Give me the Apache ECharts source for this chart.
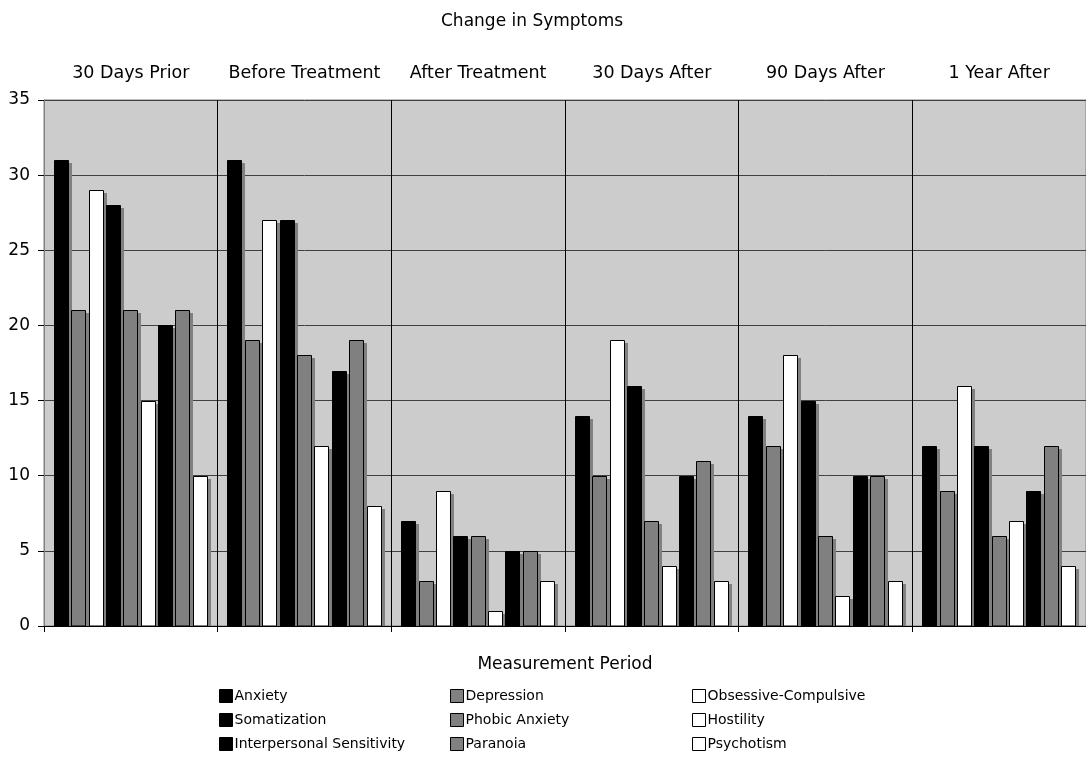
<!DOCTYPE html>
<html><head><meta charset="utf-8">
<script src="https://cdn.jsdelivr.net/npm/echarts@6/dist/echarts.min.js"></script>
<style>html,body{margin:0;padding:0;background:#fff}#c{width:1086px;height:759px}</style>
</head><body><div id="c"></div>
<script>
const categories = ["30 Days Prior","Before Treatment","After Treatment","30 Days After","90 Days After","1 Year After"];
const anxiety = [31,31,7,14,14,12];
const depression = [21,19,3,10,12,9];
const obsessive = [29,27,9,19,18,16];
const somatization = [28,27,6,16,15,12];
const phobic = [21,18,6,7,6,6];
const hostility = [15,12,1,4,2,7];
const interpersonal = [20,17,5,10,10,9];
const paranoia = [21,19,5,11,10,12];
const psychotism = [10,8,3,3,3,4];
const yTicks = [0,5,10,15,20,25,30,35];

const FONT = 'DejaVu Sans';
const BLACK = '#000000', GRAY = '#808080', WHITE = '#ffffff';
const seriesDefs = [
  ['Anxiety', anxiety, BLACK],
  ['Depression', depression, GRAY],
  ['Obsessive-Compulsive', obsessive, WHITE],
  ['Somatization', somatization, BLACK],
  ['Phobic Anxiety', phobic, GRAY],
  ['Hostility', hostility, WHITE],
  ['Interpersonal Sensitivity', interpersonal, BLACK],
  ['Paranoia', paranoia, GRAY],
  ['Psychotism', psychotism, WHITE]
];
const N = seriesDefs.length;
const BAR_W = 15, SHADOW = 3;

function makeRender(si, color) {
  return function (params, api) {
    const ci = api.value(0), v = api.value(1);
    const base = api.coord([ci, 0]);
    const top = api.coord([ci, v]);
    const band = api.size([1, 0])[0];
    const groupW = band * 0.887;
    const step = (groupW - BAR_W) / (N - 1);
    const x0 = Math.round(base[0] - groupW / 2 + si * step);
    const yTop = Math.round(top[1]);
    const yBase = Math.round(base[1]);
    const h = yBase - yTop;
    return {
      type: 'group',
      children: [
        { type: 'rect', shape: { x: x0 + SHADOW, y: yTop + SHADOW, width: BAR_W, height: Math.max(0, h - SHADOW) },
          style: { fill: '#808080' }, silent: true },
        { type: 'rect', shape: { x: x0 + 0.5, y: yTop + 0.5, width: BAR_W - 1, height: Math.max(0, h - 0.5) },
          style: { fill: color, stroke: '#000', lineWidth: 1 }, silent: true }
      ]
    };
  };
}

const series = seriesDefs.map(([name, data, color], si) => ({
  name, type: 'custom', xAxisIndex: 0, yAxisIndex: 0,
  data: data.map((v, j) => [j, v]),
  encode: { x: 0, y: 1 },
  itemStyle: { color, borderColor: '#000', borderWidth: 1 },
  renderItem: makeRender(si, color),
  animation: false
}));
function legend(left, names) {
  return {
    orient: 'vertical', left, top: 684, itemWidth: 13, itemHeight: 13, itemGap: 10,
    data: names, icon: 'rect', selectedMode: false,
    textStyle: { fontFamily: FONT, fontSize: 14, color: '#000', padding: [0,0,0,-3] },
    itemStyle: { borderColor: '#000', borderWidth: 1 }
  };
}
const chart = echarts.init(document.getElementById('c'), null, { renderer: 'canvas' });
chart.setOption({
  animation: false,
  backgroundColor: '#fff',
  title: { text: 'Change in Symptoms', left: 436, top: 8,
    textStyle: { fontFamily: FONT, fontSize: 17, fontWeight: 'normal', color: '#000' } },
  grid: { left: 44, right: 0, top: 100, bottom: 133, show: true, backgroundColor: '#cccccc', borderColor: '#808080', borderWidth: 1 },
  legend: [
    legend(214, ['Anxiety','Somatization','Interpersonal Sensitivity']),
    legend(445, ['Depression','Phobic Anxiety','Paranoia']),
    legend(687, ['Obsessive-Compulsive','Hostility','Psychotism'])
  ],
  xAxis: [
    { type: 'category', data: categories, position: 'bottom',
      name: 'Measurement Period', nameLocation: 'middle', nameGap: 30,
      nameTextStyle: { fontFamily: FONT, fontSize: 17, color: '#000' },
      axisLine: { lineStyle: { color: '#000', width: 1 } },
      axisTick: { show: true, length: 6, lineStyle: { color: '#000' } },
      axisLabel: { show: false },
      splitLine: { show: true, lineStyle: { color: '#000', width: 1 } } },
    { type: 'category', data: categories, position: 'top',
      axisLine: { show: false }, axisTick: { show: false },
      axisLabel: { show: true, interval: 0, hideOverlap: false, fontFamily: FONT, fontSize: 17.5, color: '#000', margin: 18 },
      splitLine: { show: false } }
  ],
  yAxis: {
    type: 'value', min: yTicks[0], max: yTicks[yTicks.length-1], interval: 5,
    axisLine: { show: true, lineStyle: { color: '#808080' } },
    axisTick: { show: true, length: 6, lineStyle: { color: '#000' } },
    axisLabel: { fontFamily: FONT, fontSize: 17, color: '#000', margin: 14 },
    splitLine: { show: true, lineStyle: { color: '#404040', width: 1 } }
  },
  series
});
</script></body></html>
